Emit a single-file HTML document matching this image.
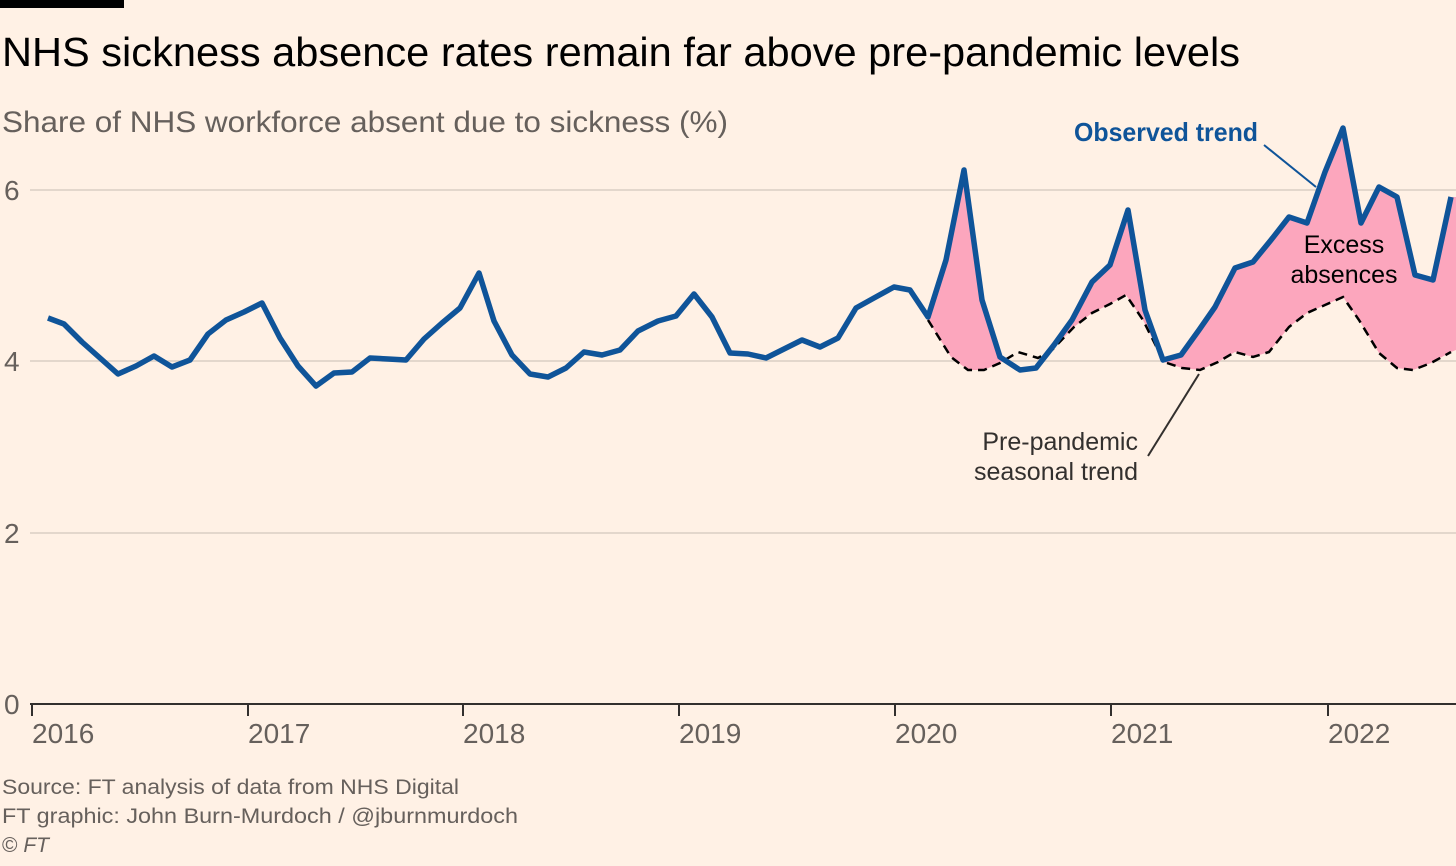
<!DOCTYPE html>
<html><head><meta charset="utf-8"><style>
body{margin:0;background:#fff1e5;width:1456px;height:861px;overflow:hidden;font-family:"Liberation Sans",sans-serif}
</style></head><body>
<svg width="1456" height="861" viewBox="0 0 1456 861" xmlns="http://www.w3.org/2000/svg" font-family="Liberation Sans, sans-serif">
<rect width="1456" height="861" fill="#fff1e5"/>
<rect x="0" y="0" width="124" height="8" fill="#000"/>
<text x="2" y="66" font-size="41" fill="#000" textLength="1238" lengthAdjust="spacingAndGlyphs">NHS sickness absence rates remain far above pre-pandemic levels</text>
<text x="2" y="132" font-size="30" fill="#66605c" textLength="726" lengthAdjust="spacingAndGlyphs">Share of NHS workforce absent due to sickness (%)</text>
<g stroke="#e3d7cc" stroke-width="2">
<line x1="30" y1="190" x2="1456" y2="190"/>
<line x1="30" y1="361" x2="1456" y2="361"/>
<line x1="30" y1="533" x2="1456" y2="533"/>
</g>
<line x1="30" y1="704" x2="1456" y2="704" stroke="#33302e" stroke-width="2"/>
<g stroke="#33302e" stroke-width="2">
<line x1="32" y1="704" x2="32" y2="716"/><line x1="248" y1="704" x2="248" y2="716"/><line x1="463" y1="704" x2="463" y2="716"/><line x1="679" y1="704" x2="679" y2="716"/><line x1="895" y1="704" x2="895" y2="716"/><line x1="1111" y1="704" x2="1111" y2="716"/><line x1="1328" y1="704" x2="1328" y2="716"/>
</g>
<g font-size="28" fill="#66605c">
<text x="4" y="200">6</text><text x="4" y="371">4</text><text x="4" y="543">2</text><text x="4" y="714">0</text>
<text x="32" y="743">2016</text><text x="248" y="743">2017</text><text x="463" y="743">2018</text><text x="679" y="743">2019</text><text x="895" y="743">2020</text><text x="1111" y="743">2021</text><text x="1328" y="743">2022</text>
</g>
<defs>
<clipPath id="below"><polygon points="928,317 946,260 964,170 982,300 1000,357 1020,370 1036,368 1054,345 1072,320 1092,282 1110,265 1128,210 1145,310 1163,360 1181,355 1199,330 1215,307 1235,268 1253,262 1271,240 1289,217 1307,223 1325,172 1343,128 1361,223 1379,187 1397,197 1415,275 1433,280 1451,197 1456,197 1456,800 928,800"/></clipPath>
</defs>
<polygon clip-path="url(#below)" fill="#fca6bd" points="928,320 951,357 968,370 984,370 1000,363 1018,352 1038,358 1052,350 1074,327 1092,313 1110,304 1126,295 1143,320 1164,362 1182,368 1200,370 1218,362 1235,352 1253,357 1269,352 1289,327 1307,313 1325,305 1343,297 1359,320 1379,353 1397,368 1413,370 1431,363 1451,352 1456,350 1456,0 928,0"/>
<polyline fill="none" stroke="#000" stroke-width="2.5" stroke-dasharray="9,6" points="928,320 951,357 968,370 984,370 1000,363 1018,352 1038,358 1052,350 1074,327 1092,313 1110,304 1126,295 1143,320 1164,362 1182,368 1200,370 1218,362 1235,352 1253,357 1269,352 1289,327 1307,313 1325,305 1343,297 1359,320 1379,353 1397,368 1413,370 1431,363 1451,352"/>
<polyline fill="none" stroke="#0f5499" stroke-width="5.5" stroke-linejoin="round" points="48,318 64,324 82,342 100,358 118,374 136,366 154,356 172,367 190,360 208,334 226,320 244,312 262,303 280,338 298,366 316,386 334,373 352,372 370,358 388,359 406,360 424,339 442,323 460,308 479,273 494,321 512,355 530,374 548,377 566,368 584,352 602,355 620,350 638,331 658,321 676,316 694,294 712,317 730,353 748,354 766,358 784,349 802,340 820,347 838,338 856,308 874,298 894,287 910,290 928,317 946,260 964,170 982,300 1000,357 1020,370 1036,368 1054,345 1072,320 1092,282 1110,265 1128,210 1145,310 1163,360 1181,355 1199,330 1215,307 1235,268 1253,262 1271,240 1289,217 1307,223 1325,172 1343,128 1361,223 1379,187 1397,197 1415,275 1433,280 1451,197"/>
<line x1="1264" y1="145" x2="1316" y2="187" stroke="#0f5499" stroke-width="2"/>
<text x="1074" y="141" font-size="26" fill="#0f5499" font-weight="bold" textLength="184" lengthAdjust="spacingAndGlyphs">Observed trend</text>
<text x="1344" y="253" font-size="25" fill="#000" text-anchor="middle">Excess</text>
<text x="1344" y="283" font-size="25" fill="#000" text-anchor="middle">absences</text>
<line x1="1148" y1="456" x2="1199" y2="374" stroke="#33302e" stroke-width="2"/>
<text x="1138" y="450" font-size="25" fill="#33302e" text-anchor="end">Pre-pandemic</text>
<text x="1138" y="480" font-size="25" fill="#33302e" text-anchor="end">seasonal trend</text>
<g font-size="21" fill="#66605c">
<text x="2" y="794" textLength="457" lengthAdjust="spacingAndGlyphs">Source: FT analysis of data from NHS Digital</text>
<text x="2" y="823" textLength="516" lengthAdjust="spacingAndGlyphs">FT graphic: John Burn-Murdoch / @jburnmurdoch</text>
<text x="2" y="852">© <tspan font-style="italic">FT</tspan></text>
</g>
</svg>
</body></html>
